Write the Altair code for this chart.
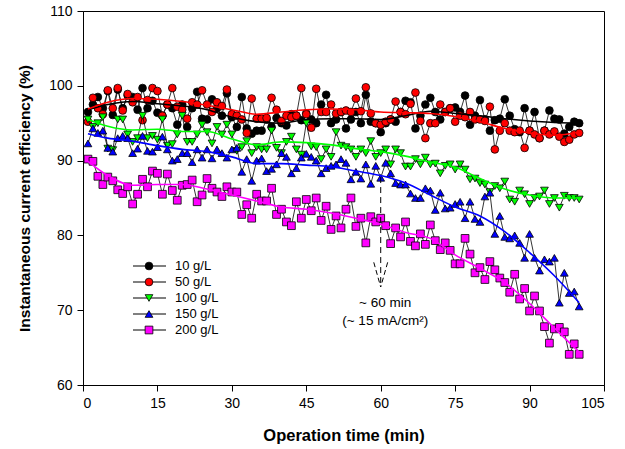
import altair as alt
import pandas as pd

minutes = list(range(1, 101))
series_names = ["10 g/L", "50 g/L", "100 g/L", "150 g/L", "200 g/L"]
series_colors = ["#000000", "#ff0000", "#00ff00", "#0000ff", "#ff00ff"]
series_shapes = ["circle", "circle", "triangle-down", "triangle-up", "square"]

eff_10 = [96.5, 97.5, 98.5, 97.0, 99.3, 96.1, 99.5, 97.0, 98.7, 98.5,
          96.8, 99.7, 97.0, 98.0, 96.4, 96.0, 97.5, 97.0, 94.8, 97.5,
          94.5, 97.0, 99.2, 95.6, 95.5, 98.2, 97.0, 96.0, 99.0, 95.8,
          94.5, 98.5, 94.3, 93.6, 94.0, 94.0, 95.5, 94.5, 95.7, 95.0,
          94.7, 96.2, 96.0, 95.4, 96.3, 95.5, 95.0, 97.5, 98.8, 95.0,
          95.5, 96.5, 94.3, 95.5, 96.5, 95.0, 98.8, 95.2, 95.0, 93.8,
          95.0, 95.5, 95.2, 96.5, 98.0, 97.8, 94.3, 96.0, 97.5, 98.4,
          96.5, 95.5, 96.5, 97.0, 97.1, 96.5, 98.7, 94.8, 96.0, 98.1,
          95.5, 94.0, 95.4, 95.6, 98.2, 96.0, 94.2, 93.8, 97.0, 94.0,
          96.5, 93.0, 94.0, 96.7, 95.6, 95.5, 93.6, 94.5, 95.2, 95.0]
eff_50 = [95.2, 98.4, 97.0, 96.2, 99.4, 97.0, 99.7, 96.7, 98.9, 97.8,
          98.5, 95.4, 98.1, 99.7, 99.3, 96.0, 97.5, 99.7, 97.2, 96.8,
          95.6, 97.8, 97.5, 99.4, 97.5, 96.5, 97.8, 97.3, 99.5, 96.2,
          96.0, 95.5, 93.7, 98.3, 95.6, 95.6, 95.7, 98.4, 96.8, 95.3,
          96.0, 95.8, 96.0, 99.7, 96.2, 94.4, 99.6, 96.5, 96.5, 97.5,
          96.3, 96.5, 96.7, 96.5, 98.3, 96.6, 99.8, 96.3, 95.0, 94.8,
          95.2, 95.5, 97.9, 96.5, 96.2, 97.6, 99.1, 95.3, 93.0, 95.0,
          95.0, 97.5, 96.5, 97.0, 95.2, 96.0, 95.8, 96.5, 95.5, 95.5,
          95.3, 97.2, 91.5, 94.0, 95.0, 94.0, 93.8, 94.0, 91.7, 94.0,
          93.5, 93.0, 94.0, 93.5, 93.9, 93.2, 92.5, 92.8, 93.5, 93.7]
eff_100 = [95.5, 94.5, 95.0, 95.8, 91.6, 91.4, 95.5, 95.5, 93.5, 92.5,
           93.0, 96.0, 93.0, 93.3, 92.8, 95.5, 92.0, 92.2, 93.5, 96.0,
           92.5, 92.5, 93.5, 94.8, 93.8, 92.3, 94.5, 93.5, 94.8, 93.5,
           91.3, 91.8, 92.6, 91.0, 91.8, 91.5, 91.5, 94.0, 91.7, 91.0,
           92.5, 93.2, 91.5, 90.8, 95.0, 91.9, 91.8, 90.2, 91.5, 90.5,
           93.8, 92.0, 91.8, 91.5, 90.5, 91.5, 91.0, 92.6, 90.5, 91.0,
           91.5, 89.5, 91.5, 91.0, 89.2, 89.2, 90.2, 89.5, 90.4, 89.5,
           89.6, 88.3, 89.3, 89.5, 88.8, 89.5, 88.8, 87.5, 87.6, 87.0,
           86.8, 85.8, 86.6, 86.3, 87.2, 84.8, 84.5, 86.0, 85.5, 84.2,
           85.0, 85.2, 86.0, 84.2, 85.0, 83.7, 85.3, 85.0, 85.0, 84.8]
eff_150 = [92.3, 94.3, 93.7, 94.0, 91.7, 91.2, 93.0, 93.3, 93.0, 91.0,
           91.6, 93.3, 91.3, 91.2, 91.8, 93.2, 91.5, 90.0, 90.2, 91.0,
           91.0, 89.8, 91.5, 90.4, 91.5, 90.3, 91.5, 91.0, 90.4, 91.5,
           91.7, 88.5, 90.2, 87.3, 90.0, 90.3, 88.6, 88.9, 89.5, 91.0,
           90.5, 88.3, 89.0, 90.4, 90.9, 90.5, 90.0, 88.3, 89.0, 89.3,
           89.5, 90.2, 89.7, 87.5, 88.5, 87.6, 89.5, 86.9, 89.3, 87.7,
           89.7, 88.3, 87.0, 86.8, 86.8, 85.6, 85.0, 85.0, 86.3, 86.0,
           83.4, 85.7, 83.6, 83.7, 84.2, 84.5, 82.3, 84.5, 82.2, 81.8,
           85.2, 85.7, 80.2, 82.6, 79.8, 79.6, 80.0, 79.0, 77.0, 80.2,
           77.0, 75.3, 76.8, 76.5, 77.0, 71.0, 75.0, 72.3, 72.5, 70.5]
eff_200 = [90.2, 89.9, 87.9, 86.8, 87.8, 87.3, 86.1, 85.6, 86.5, 84.2,
           85.5, 87.5, 86.5, 88.6, 88.3, 85.5, 88.2, 86.0, 84.7, 86.7,
           86.8, 87.4, 84.5, 85.4, 87.6, 86.3, 85.8, 85.2, 86.5, 85.8,
           85.8, 82.8, 84.1, 82.3, 85.5, 84.6, 84.6, 86.3, 82.8, 83.5,
           81.8, 81.3, 84.5, 82.3, 84.8, 83.3, 85.0, 82.0, 83.9, 80.8,
           82.6, 81.0, 83.5, 85.0, 81.2, 82.3, 79.0, 82.5, 81.8, 82.3,
           81.3, 78.9, 81.0, 79.8, 81.8, 79.2, 78.6, 80.2, 78.8, 81.4,
           79.3, 78.1, 79.0, 78.0, 76.2, 76.2, 79.6, 77.5, 75.0, 75.7,
           74.1, 76.5, 75.4, 74.3, 73.7, 72.4, 74.8, 71.5, 72.9, 69.9,
           71.9, 69.9, 67.8, 65.6, 67.5, 67.7, 67.1, 64.1, 65.5, 64.1]

fit_t = [1, 5, 10, 15, 20, 25, 30, 35, 40, 45, 50, 55, 60, 65, 70, 75, 80, 85, 90, 95, 100]
fit_10 = [96.8, 97.5, 97.9, 97.6, 97.3, 96.8, 95.8, 95.2, 95.0, 95.5, 95.6,
          95.6, 95.5, 96.0, 96.6, 96.3, 96.0, 95.6, 95.3, 95.1, 95.0]
fit_50 = [96.9, 97.8, 98.3, 98.2, 97.9, 97.4, 96.8, 96.2, 96.5, 96.8, 96.9,
          96.8, 96.5, 96.4, 96.3, 95.9, 95.2, 94.3, 93.7, 93.4, 93.8]
fit_100 = [95.5, 94.6, 94.1, 94.2, 93.9, 93.9, 92.9, 92.1, 92.5, 92.4, 92.1,
           91.6, 91.2, 90.6, 89.8, 89.1, 87.6, 86.2, 85.4, 85.0, 85.0]
fit_150 = [93.6, 93.0, 92.6, 92.0, 91.5, 91.2, 90.5, 89.6, 89.6, 89.4, 89.2,
           88.6, 88.0, 87.0, 85.4, 83.8, 82.6, 80.5, 77.7, 74.6, 71.0]
fit_200 = [89.9, 88.0, 86.7, 86.8, 86.8, 86.2, 85.4, 84.6, 83.8, 83.5, 83.0,
           82.3, 81.5, 80.4, 79.6, 77.4, 75.6, 73.7, 70.9, 67.6, 64.4]

x_ticks = [0, 15, 30, 45, 60, 75, 90, 105]
y_ticks = [60, 70, 80, 90, 100, 110]

# annotation (arrow at ~60 min)
arrow_t = [60, 60]
arrow_v = [87.8, 73.1]
head_t = [58.6, 61.4]
head_v = [76.4, 76.4]
note_lines = ["~ 60 min", "(~ 15 mA/cm\u00b2)"]
note_t = [60.9, 60.9]
note_v = [71.0, 68.6]

FONT = "Liberation Sans"

all_eff = [eff_10, eff_50, eff_100, eff_150, eff_200]
all_fit = [fit_10, fit_50, fit_100, fit_150, fit_200]

x_enc = alt.X("t:Q", scale=alt.Scale(domain=[0, 105], nice=False, zero=False),
              axis=alt.Axis(values=x_ticks, title="Operation time (min)", grid=False,
                            titlePadding=17, titleFontSize=16.5))
y_enc = alt.Y("v:Q", scale=alt.Scale(domain=[60, 110], nice=False, zero=False),
              axis=alt.Axis(values=y_ticks, title="Instantaneous current efficiency (%)",
                            grid=False, titlePadding=16, titleFontSize=15.5))

layers = []
for name, color, shape, eff in zip(series_names, series_colors, series_shapes, all_eff):
    df = pd.DataFrame({"t": minutes, "v": eff, "series": name})
    base = alt.Chart(df)
    layers.append(base.mark_line(color="black", strokeWidth=0.8).encode(x=x_enc, y=y_enc))
    layers.append(base.mark_point(shape=shape, filled=True, fill=color, stroke="black",
                                  strokeWidth=0.8, size=60, opacity=1)
                  .encode(x=x_enc, y=y_enc))

for name, color, fit in zip(series_names, series_colors, all_fit):
    dff = pd.DataFrame({"t": fit_t, "v": fit, "series": name})
    layers.append(alt.Chart(dff).mark_line(color=color, strokeWidth=1.6, interpolate="monotone")
                  .encode(x=x_enc, y=y_enc))

# arrow
arrow_df = pd.DataFrame({"t": [arrow_t[0]], "v": [arrow_v[0]], "t2": [arrow_t[1]], "v2": [arrow_v[1]]})
layers.append(alt.Chart(arrow_df).mark_rule(color="black", strokeWidth=1, strokeDash=[6, 4])
              .encode(x=x_enc, y=y_enc, x2="t2:Q", y2="v2:Q"))
head_df = pd.DataFrame({"t": head_t, "v": head_v, "t2": [arrow_t[1]] * 2, "v2": [arrow_v[1]] * 2})
layers.append(alt.Chart(head_df).mark_rule(color="black", strokeWidth=1, strokeDash=[5, 3])
              .encode(x=x_enc, y=y_enc, x2="t2:Q", y2="v2:Q"))
note_df = pd.DataFrame({"t": note_t, "v": note_v, "txt": note_lines})
layers.append(alt.Chart(note_df).mark_text(font=FONT, fontSize=13.5, color="black",
                                           align="center", baseline="middle")
              .encode(x=x_enc, y=y_enc, text="txt:N"))

# manual legend (pixel placement inside plot area)
one = pd.DataFrame({"k": [0]})
for i, (name, color, shape) in enumerate(zip(series_names, series_colors, series_shapes)):
    yy = 255 + 16 * i
    c = alt.Chart(one)
    layers.append(c.mark_rule(color="black", strokeWidth=1)
                  .encode(x=alt.value(50), x2=alt.value(83), y=alt.value(yy)))
    layers.append(c.mark_point(shape=shape, filled=True, fill=color, stroke="black",
                               strokeWidth=0.8, size=60, opacity=1)
                  .encode(x=alt.value(66), y=alt.value(yy)))
    layers.append(c.mark_text(font=FONT, fontSize=13, color="black", align="left",
                              baseline="middle")
                  .encode(x=alt.value(92), y=alt.value(yy), text=alt.value(name)))

chart = alt.layer(*layers).properties(
    width=521, height=374,
    autosize=alt.AutoSizeParams(type="none"),
    padding={"left": 83, "top": 11, "right": 21, "bottom": 64},
    background="white",
).configure_view(
    stroke="black", strokeWidth=1
).configure_axis(
    domainColor="black", tickColor="black", labelColor="black", titleColor="black",
    labelFont=FONT, titleFont=FONT, labelFontSize=14,
    titleFontWeight="bold", tickSize=6, labelPadding=5, domainWidth=1, tickWidth=1,
)

chart.save("out.html", embed_options={"renderer": "svg", "actions": False})
